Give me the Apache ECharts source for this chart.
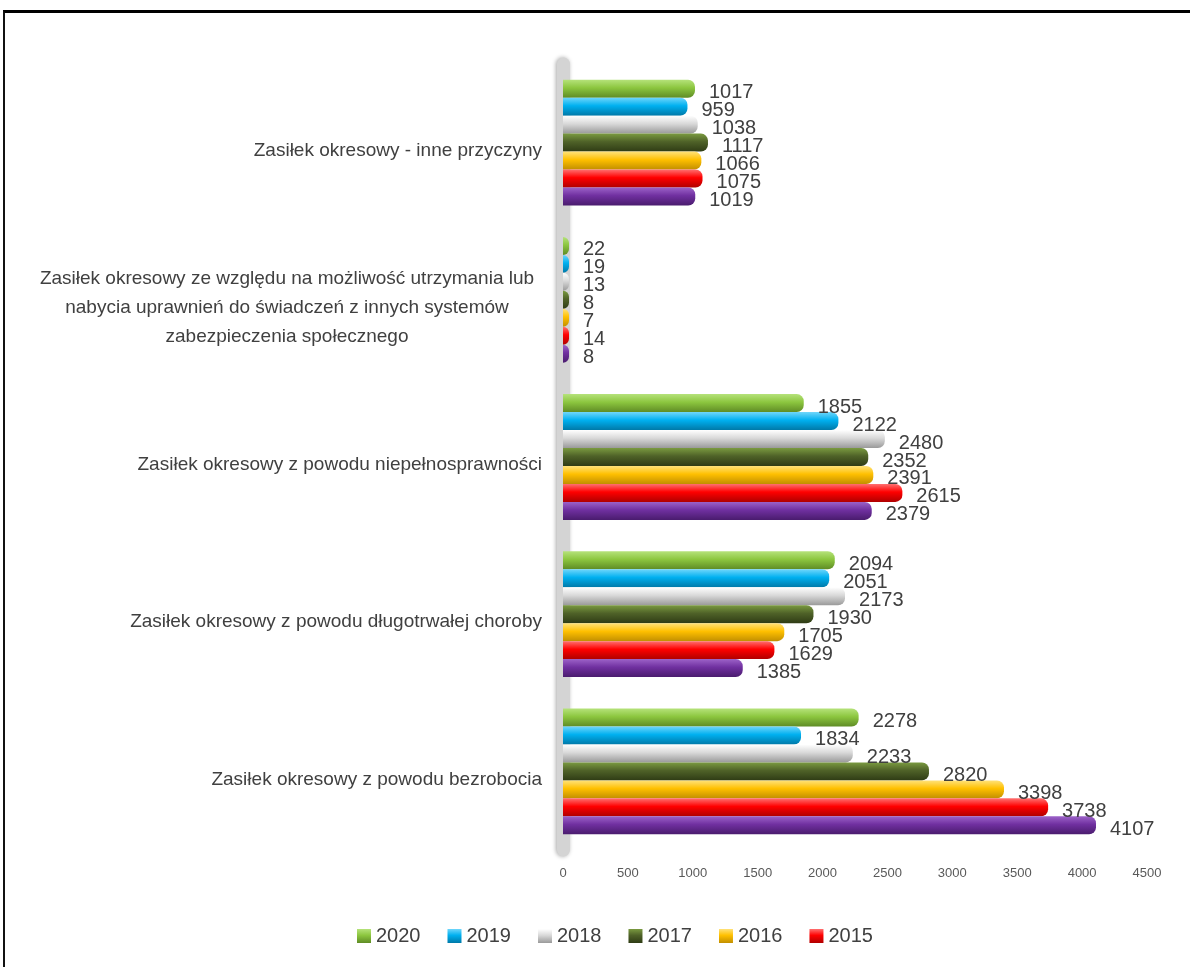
<!DOCTYPE html>
<html>
<head>
<meta charset="utf-8">
<script src="https://cdn.jsdelivr.net/npm/echarts@6/dist/echarts.min.js"></script>
<style>
  html, body { margin: 0; padding: 0; background: #fff; }
  #main { width: 1190px; height: 967px; }
  .frame { position: absolute; left: 3px; top: 10px; width: 1300px; height: 1100px;
           border-top: 3px solid #000; border-left: 2px solid #111; pointer-events: none; }
</style>
</head>
<body>
<div id="main"></div>
<div class="frame"></div>
<script>
// kategorie (od dołu do góry)
var categories = [
    'Zasiłek okresowy z powodu bezrobocia',
    'Zasiłek okresowy z powodu długotrwałej choroby',
    'Zasiłek okresowy z powodu niepełnosprawności',
    'Zasiłek okresowy ze względu na możliwość utrzymania lub\nnabycia uprawnień do świadczeń z innych systemów\nzabezpieczenia społecznego',
    'Zasiłek okresowy - inne przyczyny'
];
var years = ['2020', '2019', '2018', '2017', '2016', '2015', '2014'];
var legendYears = ['2020', '2019', '2018', '2017', '2016', '2015'];

var v2020 = [2278, 2094, 1855, 22, 1017];
var v2019 = [1834, 2051, 2122, 19, 959];
var v2018 = [2233, 2173, 2480, 13, 1038];
var v2017 = [2820, 1930, 2352, 8, 1117];
var v2016 = [3398, 1705, 2391, 7, 1066];
var v2015 = [3738, 1629, 2615, 14, 1075];
var v2014 = [4107, 1385, 2379, 8, 1019];
var values = [v2020, v2019, v2018, v2017, v2016, v2015, v2014];

var xTicks = [0, 4500, 500];

// kolory: jasny, bazowy, ciemny
var colors = [
    ['#b5e27a', '#8cc63f', '#5f8c25'],
    ['#6fd6fb', '#00b0f0', '#0079a8'],
    ['#ffffff', '#d9d9d9', '#9a9a9a'],
    ['#7a9a40', '#4f6228', '#2f3c15'],
    ['#ffe27a', '#ffc000', '#c28f00'],
    ['#ff7070', '#ff0000', '#b00000'],
    ['#9c62c8', '#7030a0', '#4a1c6e']
];

function grad(c) {
    return new echarts.graphic.LinearGradient(0, 0, 0, 1, [
        {offset: 0, color: c[0]},
        {offset: 0.45, color: c[1]},
        {offset: 1, color: c[2]}
    ]);
}

var series = [];
for (var i = 0; i < years.length; i++) {
    series.push({
        name: years[i],
        type: 'bar',
        data: values[i],
        barGap: '0%',
        barCategoryGap: '20%',
        barMinHeight: 6,
        itemStyle: {
            color: grad(colors[i]),
            borderRadius: [0, 7, 7, 0]
        },
        label: {
            show: true,
            position: 'right',
            distance: 6,
            offset: [8, 4],
            color: '#404040',
            fontSize: 20,
            fontFamily: 'Liberation Sans'
        }
    });
}

var myChart = echarts.init(document.getElementById('main'));
var option = {
    animation: false,
    grid: {left: 563, right: 43, top: 64, bottom: 117, containLabel: false},
    legend: {
        data: legendYears,
        left: 352,
        top: 921,
        itemWidth: 14,
        itemHeight: 14,
        itemGap: 27,
        icon: 'rect',
        textStyle: {color: '#404040', fontSize: 20, fontFamily: 'Liberation Sans'}
    },
    xAxis: {
        type: 'value',
        min: xTicks[0],
        max: xTicks[1],
        interval: xTicks[2],
        axisLine: {show: false},
        axisTick: {show: false},
        splitLine: {show: false},
        axisLabel: {
            color: '#595959', fontSize: 13, margin: 17, fontFamily: 'Liberation Sans',
            formatter: function (v) { return String(v); }
        }
    },
    yAxis: {
        type: 'category',
        data: categories,
        axisTick: {show: false},
        axisLine: {
            show: true,
            lineStyle: {color: '#d4d4d4', width: 13, shadowColor: 'rgba(0,0,0,0.35)', shadowBlur: 4, shadowOffsetX: -1}
        },
        axisLabel: {
            margin: 21,
            color: '#404040',
            fontSize: 19,
            fontFamily: 'Liberation Sans',
            padding: [16, 0, 0, 0],
            formatter: function (value) {
                if (value.indexOf('\n') >= 0) {
                    return value.split('\n').map(function (l) { return '{c|' + l + '}'; }).join('\n');
                }
                return value;
            },
            rich: {
                c: {width: 510, align: 'center', fontSize: 19, lineHeight: 29, color: '#404040', fontFamily: 'Liberation Sans'}
            }
        }
    },
    series: series
};
myChart.setOption(option);
</script>
</body>
</html>
